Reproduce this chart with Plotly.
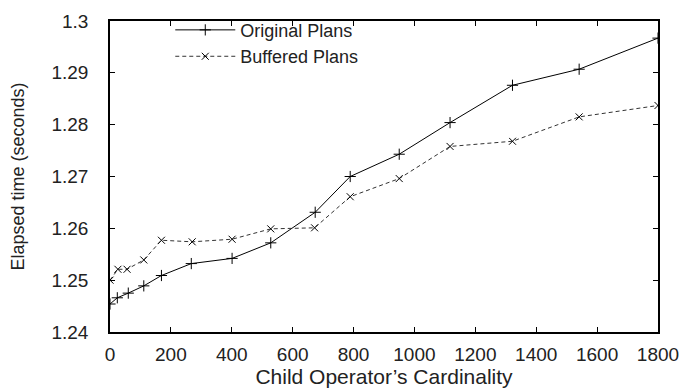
import plotly.graph_objects as go

cardinality_orig = [0, 24, 60, 111, 169, 267, 401, 528, 674, 789, 950, 1117, 1322, 1541, 1800]
original_plans = [1.2454, 1.2466, 1.2475, 1.2489, 1.2509, 1.2532, 1.2542, 1.2572, 1.2631,
                  1.2700, 1.2743, 1.2804, 1.2876, 1.2907, 1.2967]

cardinality_buf = [0, 26, 56, 111, 169, 270, 401, 528, 672, 789, 950, 1117, 1322, 1541, 1800]
buffered_plans = [1.2500, 1.2521, 1.2521, 1.2539, 1.2577, 1.2574, 1.2579, 1.2599, 1.2601,
                  1.2661, 1.2696, 1.2758, 1.2768, 1.2815, 1.2837]

x_ticks = [0, 200, 400, 600, 800, 1000, 1200, 1400, 1600, 1800]
y_ticks = [1.24, 1.25, 1.26, 1.27, 1.28, 1.29, 1.3]
y_tick_labels = ["1.24", "1.25", "1.26", "1.27", "1.28", "1.29", "1.3"]

FONT = "Liberation Sans, Arial, sans-serif"
NARROW = "Liberation Sans Narrow, Liberation Sans, Arial, sans-serif"

fig = go.Figure()
fig.add_trace(go.Scatter(
    x=cardinality_orig, y=original_plans, name="Original Plans",
    mode="lines+markers",
    line=dict(color="black", width=1),
    marker=dict(symbol="cross-thin", size=8, line=dict(color="black", width=1), color="black"),
))
fig.add_trace(go.Scatter(
    x=cardinality_buf, y=buffered_plans, name="Buffered Plans",
    mode="lines+markers",
    line=dict(color="#333333", width=1, dash="4px,3px"),
    marker=dict(symbol="x-thin", size=7, line=dict(color="black", width=1), color="black"),
))

axis_common = dict(
    showline=True, linecolor="black", linewidth=1.5, mirror="ticks",
    ticks="inside", ticklen=5, tickwidth=1, tickcolor="black",
    showgrid=False, zeroline=False, automargin=False,
    tickfont=dict(family=FONT, size=19, color="#222222"),
)

fig.update_layout(
    width=683, height=388,
    margin=dict(l=110, r=25, t=15, b=56),
    paper_bgcolor="white", plot_bgcolor="white",
    font=dict(family=FONT, color="black"),
    xaxis=dict(range=[0, 1800], tickvals=x_ticks, ticklabelstandoff=4,
               title=dict(text="Child Operator\u2019s Cardinality",
                          font=dict(family=FONT, size=21, color="#222222"), standoff=7),
               **axis_common),
    yaxis=dict(range=[1.24, 1.3], tickvals=y_ticks, ticktext=y_tick_labels,
               ticklabelstandoff=16,
               title=dict(text="Elapsed time (seconds)",
                          font=dict(family=NARROW, size=18, color="#222222"), standoff=22),
               **axis_common),
    legend=dict(x=0.11, y=1.03, xanchor="left", yanchor="top",
                bgcolor="rgba(0,0,0,0)", borderwidth=0,
                font=dict(family=FONT, size=18, color="#222222"), itemwidth=60,
                tracegroupgap=0),
    showlegend=True,
)

fig.write_html("out.html")
